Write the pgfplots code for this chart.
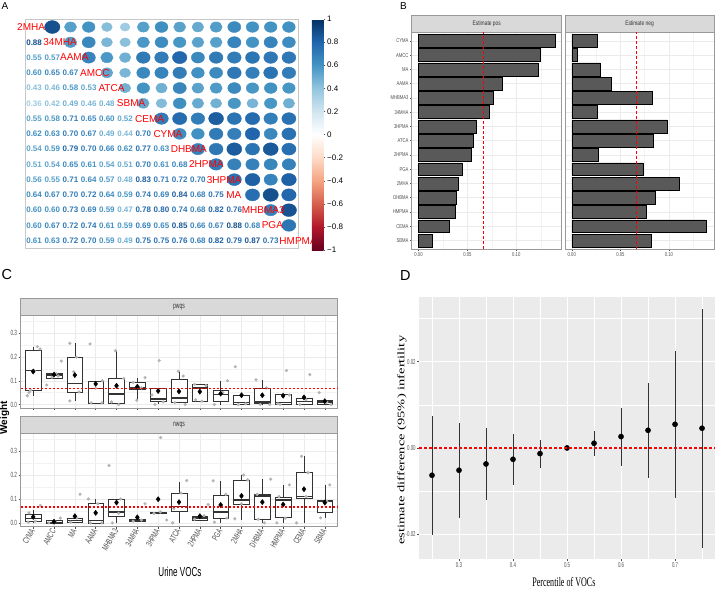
\documentclass[border=0pt]{standalone}
\usepackage{fontspec}
\setmainfont{Liberation Sans}
\newfontfamily\narrowg[FakeStretch=0.75, Color=4D4D4D]{Liberation Sans}
\newfontfamily\condg[FakeStretch=0.62, Color=4D4D4D]{Liberation Sans}
\newfontfamily\stripn[FakeStretch=0.75, Color=333333]{Liberation Sans}
\newfontfamily\stripc[FakeStretch=0.62, Color=333333]{Liberation Sans}
\newfontfamily\cond[FakeStretch=0.62]{Liberation Sans}
\newfontfamily\serifc[FakeStretch=0.62]{Liberation Serif}
\newfontfamily\serifw[FakeStretch=1.45]{Liberation Serif}
\usepackage{pgfplots}
\usepackage{pgfplotstable}
\pgfplotsset{compat=1.18}
\usepgfplotslibrary{statistics}

\definecolor{bargray}{HTML}{595959}
\definecolor{stripfill}{HTML}{D9D9D9}
\definecolor{stripline}{HTML}{999999}
\definecolor{gridc}{HTML}{EBEBEB}
\definecolor{tickc}{HTML}{4D4D4D}
\definecolor{panelbg}{HTML}{EBEBEB}
\definecolor{cellline}{HTML}{C8C8C8}
\definecolor{jit}{HTML}{B4B4B4}
\definecolor{refred}{HTML}{FF0000}

% correlations, i<j
\pgfplotstableread{
i j r
1 2 0.88
1 3 0.55
2 3 0.57
1 4 0.60
2 4 0.65
3 4 0.67
1 5 0.43
2 5 0.46
3 5 0.58
4 5 0.53
1 6 0.36
2 6 0.42
3 6 0.49
4 6 0.46
5 6 0.48
1 7 0.55
2 7 0.58
3 7 0.71
4 7 0.65
5 7 0.60
6 7 0.52
1 8 0.62
2 8 0.63
3 8 0.70
4 8 0.67
5 8 0.49
6 8 0.44
7 8 0.70
1 9 0.54
2 9 0.59
3 9 0.79
4 9 0.70
5 9 0.66
6 9 0.62
7 9 0.77
8 9 0.63
1 10 0.51
2 10 0.54
3 10 0.65
4 10 0.61
5 10 0.54
6 10 0.51
7 10 0.70
8 10 0.61
9 10 0.68
1 11 0.56
2 11 0.55
3 11 0.71
4 11 0.64
5 11 0.57
6 11 0.48
7 11 0.83
8 11 0.71
9 11 0.72
10 11 0.70
1 12 0.64
2 12 0.67
3 12 0.70
4 12 0.72
5 12 0.64
6 12 0.59
7 12 0.74
8 12 0.69
9 12 0.84
10 12 0.68
11 12 0.75
1 13 0.60
2 13 0.60
3 13 0.73
4 13 0.69
5 13 0.59
6 13 0.47
7 13 0.78
8 13 0.80
9 13 0.74
10 13 0.68
11 13 0.82
12 13 0.76
1 14 0.60
2 14 0.67
3 14 0.72
4 14 0.74
5 14 0.61
6 14 0.59
7 14 0.69
8 14 0.65
9 14 0.85
10 14 0.66
11 14 0.67
12 14 0.88
13 14 0.68
1 15 0.61
2 15 0.63
3 15 0.72
4 15 0.70
5 15 0.59
6 15 0.49
7 15 0.75
8 15 0.75
9 15 0.76
10 15 0.68
11 15 0.82
12 15 0.79
13 15 0.87
14 15 0.73
}\corrtab

\pgfplotstableread{
x y lab
0.06 1 2MHA
1.50 2 34MHA
2.42 3 AAMA
3.52 4 AMCC
4.53 5 ATCA
5.54 6 SBMA
6.54 7 CEMA
7.55 8 CYMA
8.50 9 DHBMA
9.51 10 2HPMA
10.48 11 3HPMA
11.55 12 MA
12.40 13 MHBMA3
13.50 14 PGA
14.47 15 HMPMA
}\diagtab

\pgfplotstableread{
k pos neg
1 0.1395 0.0260
2 0.1243 0.0061
3 0.1220 0.0290
4 0.0861 0.0405
5 0.0767 0.0828
6 0.0720 0.0260
7 0.0595 0.0980
8 0.0564 0.0838
9 0.0537 0.0277
10 0.0443 0.0736
11 0.0405 0.1110
12 0.0382 0.0858
13 0.0375 0.0767
14 0.0318 0.1380
15 0.0145 0.0821
}\btab

\pgfplotstableread{
x y
0.72 0.037
0.80 0.050
0.88 0.060
1.20 0.244
1.33 0.234
1.05 0.142
1.65 0.082
2.35 0.183
2.10 0.130
1.90 0.115
2.20 0.120
2.76 0.258
3.08 0.199
2.76 0.015
3.20 0.053
2.95 0.138
3.73 0.255
4.32 0.100
3.78 0.007
4.30 0.007
4.00 0.068
4.95 0.227
5.35 0.110
5.10 0.000
4.76 0.011
6.37 0.113
5.97 0.018
5.80 0.093
6.20 0.070
7.05 0.185
6.85 0.000
7.24 0.011
6.70 0.040
7.97 0.140
8.20 0.120
7.80 0.008
8.30 0.000
8.75 0.085
9.30 0.080
9.10 0.014
8.80 0.020
9.70 0.000
10.33 0.100
10.70 0.159
10.10 0.050
10.85 0.000
11.20 0.003
11.05 0.040
11.70 0.104
12.20 0.070
11.90 0.000
12.35 0.000
12.85 0.000
13.16 0.143
13.30 0.040
12.75 0.003
14.28 0.126
13.80 0.000
14.10 0.020
14.73 0.050
15.30 0.000
15.10 0.010
}\pwpts

\pgfplotstableread{
x y
1 0.139
2 0.126
3 0.124
4 0.087
5 0.079
6 0.075
7 0.057
8 0.055
9 0.054
10 0.046
11 0.039
12 0.039
13 0.037
14 0.030
15 0.014
}\pwmean

\pgfplotstableread{
x y
1.34 0.073
0.80 0.042
0.76 0.003
1.10 0.007
1.75 0.000
2.30 0.020
2.05 0.005
3.25 0.120
2.80 0.003
3.10 0.020
3.65 0.100
3.75 0.000
4.30 0.000
4.10 0.080
4.64 0.240
4.80 0.000
5.20 0.100
5.10 0.040
6.37 0.080
5.80 0.007
6.20 0.012
7.12 0.357
7.41 0.012
6.80 0.040
7.10 0.046
8.37 0.177
7.70 0.000
8.10 0.125
7.75 0.060
9.40 0.077
8.75 0.015
9.20 0.030
9.64 0.176
9.70 0.003
10.25 0.120
10.30 0.020
10.68 0.017
11.10 0.200
11.30 0.180
11.00 0.080
12.40 0.183
11.75 0.120
12.10 0.000
11.80 0.015
13.30 0.159
12.70 0.000
13.10 0.020
12.80 0.110
13.64 0.000
13.88 0.279
14.20 0.210
14.10 0.110
15.24 0.159
14.80 0.021
15.10 0.090
}\nwpts

\pgfplotstableread{
x y
1 0.025
2 0.005
3 0.028
4 0.042
5 0.085
6 0.023
7 0.099
8 0.087
9 0.028
10 0.075
11 0.113
12 0.087
13 0.077
14 0.141
15 0.085
}\nwmean

\pgfplotstableread{
p est lo hi
0.25 -0.00633 -0.02015 0.00741
0.30 -0.00517 -0.01620 0.00587
0.35 -0.00371 -0.01205 0.00471
0.40 -0.00263 -0.00857 0.00332
0.45 -0.00131 -0.00456 0.00185
0.50 0.00000 0.00000 0.00000
0.55 0.00108 -0.00193 0.00394
0.60 0.00263 -0.00409 0.00919
0.65 0.00409 -0.00687 0.01498
0.70 0.00548 -0.01150 0.02240
0.75 0.00456 -0.02310 0.03210
}\dtab

\newcommand\bx[6]{\addplot[draw=black!80, fill=white, line width=0.5pt,
  boxplot prepared={draw direction=y, draw position=#1, lower whisker=#2, lower quartile=#3,
  median=#4, upper quartile=#5, upper whisker=#6, box extend=0.75,
  whisker extend=0, every median/.style={line width=1.3pt}}] coordinates {};}

\pgfplotsset{
  bstyle/.style={
    scale only axis, width=150pt, height=216.7pt,
    xmin=-0.007, xmax=0.1465, ymin=0.4, ymax=15.6, y dir=reverse,
    xtick={0,0.05,0.1}, xticklabels={0.00,0.05,0.10},
    minor xtick={0.025,0.075,0.125}, ytick={1,...,15},
    xmajorgrids, xminorgrids, ymajorgrids,
    major grid style={draw=gridc, line width=0.5pt},
    minor grid style={draw=gridc!60, line width=0.3pt},
    axis line style={draw=stripline, line width=0.5pt},
    tick style={draw=tickc, line width=0.4pt},
    major tick length=1.5pt, minor tick length=0pt,
    tick align=outside, tick pos=left,
    ticklabel style={font=\narrowg\fontsize{5.6}{6}\selectfont, inner sep=1.5pt},
    clip=false},
  cstyle/.style={
    scale only axis, width=316.6pt,
    xmin=0.4, xmax=15.6, ymin=-0.016, ymax=0.375,
    xtick={1,...,15}, ytick={0,0.1,0.2,0.3}, yticklabels={0.0,0.1,0.2,0.3},
    minor ytick={0.05,0.15,0.25,0.35},
    xmajorgrids, ymajorgrids, yminorgrids,
    major grid style={draw=gridc, line width=0.5pt},
    minor grid style={draw=gridc!60, line width=0.3pt},
    axis line style={draw=stripline, line width=0.5pt},
    tick style={draw=tickc, line width=0.4pt},
    major tick length=2pt, minor tick length=0pt,
    tick align=outside, tick pos=left,
    ticklabel style={font=\condg\fontsize{7.5}{8}\selectfont, inner sep=1.5pt},
    clip=false},
  % bare axis on top of a panel, used only for the red reference line
  ovl/.style={scale only axis, hide axis, anchor=south west, clip=false},
  refline/.style={draw=refred, color=refred, line width=1.3pt, dash pattern=on 2.5pt off 1.5pt},
}

\begin{document}
\begin{tikzpicture}
\useasboundingbox (0,0) rectangle (719pt,590pt);

% ---------------- A
\begin{axis}[
  at={(25pt,341.7pt)}, anchor=south west,
  scale only axis, width=273pt, height=228.9pt,
  xmin=0.5, xmax=15.5, ymin=0.5, ymax=15.5, y dir=reverse,
  xtick=\empty, ytick=\empty,
  minor xtick={0.5,1.5,...,15.5}, minor ytick={0.5,1.5,...,15.5},
  grid=minor, minor grid style={draw=cellline, line width=0.5pt},
  minor tick length=0pt,
  axis line style={draw=cellline, line width=0.5pt},
  clip=false,
  colormap={rdbu}{rgb255=(103,0,31) rgb255=(178,24,43) rgb255=(214,96,77) rgb255=(244,165,130) rgb255=(253,219,199) rgb255=(255,255,255) rgb255=(209,229,240) rgb255=(146,197,222) rgb255=(67,147,195) rgb255=(33,102,172) rgb255=(5,48,97)},
  point meta min=-1, point meta max=1,
  colorbar,
  colorbar style={
    at={(parent axis.north east)}, anchor=north west, xshift=5.3pt, yshift=0.4pt,
    scale only axis, width=11.7pt, height=231pt,
    ytick={-1,-0.8,-0.6,-0.4,-0.2,0,0.2,0.4,0.6,0.8,1},
    yticklabels={−1,−0.8,−0.6,−0.4,−0.2,0,0.2,0.4,0.6,0.8,1},
    yticklabel pos=right, ytick pos=right,
    major tick length=1.5pt, tick align=outside,
    axis line style={draw=none},
    ytick style={draw=black!70, line width=0.4pt},
    yticklabel style={font=\fontsize{8}{9}\selectfont, inner sep=2pt}},
]
\addplot[scatter, only marks, mark=*, point meta=\thisrow{r},
  scatter/use mapped color={draw=mapped color, fill=mapped color},
  visualization depends on={6.87*sqrt(\thisrow{r}) \as \msz},
  scatter/@pre marker code/.append style={/tikz/mark size=\msz},
  mark options={xscale=1.19}]
  table[x=j, y=i] {\corrtab};
\addplot[scatter, only marks, mark=none, point meta=\thisrow{r},
  nodes near coords={\pgfplotscolormapdefinemappedcolor{\pgfplotspointmetatransformed}\textcolor{mapped color}{\pgfmathprintnumber[fixed,fixed zerofill,precision=2,assume math mode=true]{\pgfplotspointmeta}}},
  every node near coord/.append style={anchor=center, inner sep=0pt,
    font=\fontsize{8}{9}\selectfont\bfseries}]
  table[x=i, y=j] {\corrtab};
\addplot[only marks, mark=none, point meta=explicit symbolic, nodes near coords,
  every node near coord/.append style={anchor=west, inner sep=0pt,
    font=\fontsize{10}{11}\selectfont, text=refred}]
  table[x=x, y=y, meta=lab] {\diagtab};
\end{axis}

% ---------------- B left
\begin{axis}[bstyle, at={(411.7pt,341pt)}, anchor=south west,
  yticklabels={CYMA,AMCC,MA,AAMA,MHBMA3,34MHA,3HPMA,ATCA,2HPMA,PGA,2MHA,DHBMA,HMPMA,CEMA,SBMA}]
\addplot[xbar, bar width=0.9, fill=bargray, draw=black, line width=0.5pt] table[x=pos, y=k] {\btab};
\draw[fill=stripfill, draw=stripline, line width=0.5pt] (axis description cs:0,1) rectangle ([yshift=16.6pt]axis description cs:1,1);
\node[font=\stripn\fontsize{6.5}{7}\selectfont] at ([yshift=8.3pt]axis description cs:0.5,1) {Estimate pos};
\end{axis}
\begin{axis}[ovl, at={(411.7pt,341pt)}, width=150pt, height=216.7pt,
  xmin=-0.007, xmax=0.1465, ymin=0.4, ymax=15.6]
\addplot[refline, line width=1.3pt, dash pattern=on 3pt off 2pt] coordinates {(0.0667,0.4) (0.0667,15.6)};
\end{axis}

% ---------------- B right
\begin{axis}[bstyle, at={(565pt,341pt)}, anchor=south west, width=149pt,
  yticklabels={}, ytick style={draw=none}]
\addplot[xbar, bar width=0.9, fill=bargray, draw=black, line width=0.5pt] table[x=neg, y=k] {\btab};
\draw[fill=stripfill, draw=stripline, line width=0.5pt] (axis description cs:0,1) rectangle ([yshift=16.6pt]axis description cs:1,1);
\node[font=\stripn\fontsize{6.5}{7}\selectfont] at ([yshift=8.3pt]axis description cs:0.5,1) {Estimate neg};
\end{axis}
\begin{axis}[ovl, at={(565pt,341pt)}, width=149pt, height=216.7pt,
  xmin=-0.007, xmax=0.1465, ymin=0.4, ymax=15.6]
\addplot[refline, line width=1.3pt, dash pattern=on 3pt off 2pt] coordinates {(0.0667,0.4) (0.0667,15.6)};
\end{axis}

% ---------------- C top (pwqs)
\begin{axis}[cstyle, at={(20.7pt,181.7pt)}, anchor=south west, height=92.8pt, xticklabels={}]
\bx{1}{0.035}{0.058}{0.142}{0.227}{0.244}
\bx{2}{0.110}{0.111}{0.124}{0.131}{0.131}
\bx{3}{0.015}{0.051}{0.089}{0.199}{0.258}
\bx{4}{0.007}{0.007}{0.068}{0.099}{0.099}
\bx{5}{0.007}{0.007}{0.044}{0.110}{0.227}
\bx{6}{0.018}{0.065}{0.070}{0.093}{0.110}
\bx{7}{0.002}{0.014}{0.023}{0.070}{0.070}
\bx{8}{0.005}{0.010}{0.028}{0.107}{0.138}
\bx{9}{0.014}{0.014}{0.070}{0.085}{0.085}
\bx{10}{0.000}{0.014}{0.042}{0.061}{0.100}
\bx{11}{0.000}{0.000}{0.008}{0.037}{0.037}
\bx{12}{0.000}{0.004}{0.011}{0.068}{0.103}
\bx{13}{0.000}{0.001}{0.008}{0.042}{0.042}
\bx{14}{0.000}{0.003}{0.014}{0.025}{0.025}
\bx{15}{0.000}{0.001}{0.010}{0.018}{0.018}
\addplot[only marks, mark=*, mark size=1.4pt, draw=jit, fill=jit, mark options={draw=jit, fill=jit}] table[x=x, y=y] {\pwpts};
\addplot[only marks, mark=diamond*, mark size=2.6pt, mark options={draw=black, fill=black}] table[x=x, y=y] {\pwmean};
\draw[fill=stripfill, draw=stripline, line width=0.5pt] (axis description cs:0,1) rectangle ([yshift=17pt]axis description cs:1,1);
\node[font=\stripc\fontsize{8}{9}\selectfont] at ([yshift=8.5pt]axis description cs:0.5,1) {pwqs};
\end{axis}
\begin{axis}[ovl, at={(20.7pt,181.7pt)}, width=316.6pt, height=92.8pt,
  xmin=0.4, xmax=15.6, ymin=-0.016, ymax=0.375]
\addplot[refline] coordinates {(0.4,0.0667) (15.6,0.0667)};
\end{axis}

% ---------------- C bottom (nwqs)
\begin{axis}[cstyle, at={(20.7pt,63.3pt)}, anchor=south west, height=93.4pt,
  xticklabels={CYMA,AMCC,MA,AAMA,MHBMA3,34MHA,3HPMA,ATCA,2HPMA,PGA,2MHA,DHBMA,HMPMA,CEMA,SBMA},
  xticklabel style={rotate=60, anchor=east, font=\condg\fontsize{8.8}{10}\selectfont, inner sep=1pt},
  xlabel={Urine VOCs},
  xlabel style={at={(axis description cs:0.503,-0.482)}, anchor=center, font=\cond\fontsize{13}{14}\selectfont}]
\bx{1}{0.000}{0.007}{0.017}{0.038}{0.056}
\bx{2}{0.000}{0.000}{0.003}{0.011}{0.011}
\bx{3}{0.000}{0.003}{0.011}{0.020}{0.028}
\bx{4}{0.000}{0.000}{0.011}{0.082}{0.099}
\bx{5}{0.000}{0.028}{0.045}{0.099}{0.099}
\bx{6}{0.007}{0.007}{0.011}{0.017}{0.017}
\bx{7}{0.039}{0.039}{0.042}{0.046}{0.046}
\bx{8}{0.000}{0.049}{0.070}{0.124}{0.172}
\bx{9}{0.011}{0.011}{0.020}{0.028}{0.028}
\bx{10}{0.000}{0.021}{0.046}{0.117}{0.176}
\bx{11}{0.014}{0.077}{0.096}{0.179}{0.200}
\bx{12}{0.000}{0.017}{0.113}{0.120}{0.183}
\bx{13}{0.000}{0.025}{0.096}{0.106}{0.159}
\bx{14}{0.000}{0.103}{0.110}{0.211}{0.279}
\bx{15}{0.021}{0.045}{0.092}{0.096}{0.159}
\addplot[only marks, mark=*, mark size=1.4pt, draw=jit, fill=jit, mark options={draw=jit, fill=jit}] table[x=x, y=y] {\nwpts};
\addplot[only marks, mark=diamond*, mark size=2.6pt, mark options={draw=black, fill=black}] table[x=x, y=y] {\nwmean};
\draw[fill=stripfill, draw=stripline, line width=0.5pt] (axis description cs:0,1) rectangle ([yshift=17pt]axis description cs:1,1);
\node[font=\stripc\fontsize{8}{9}\selectfont] at ([yshift=8.5pt]axis description cs:0.5,1) {nwqs};
\end{axis}
\begin{axis}[ovl, at={(20.7pt,63.3pt)}, width=316.6pt, height=93.4pt,
  xmin=0.4, xmax=15.6, ymin=-0.016, ymax=0.375]
\addplot[refline] coordinates {(0.4,0.0667) (15.6,0.0667)};
\end{axis}

% ---------------- D
\begin{axis}[at={(419.3pt,30.7pt)}, anchor=south west,
  scale only axis, width=295.7pt, height=262pt,
  xmin=0.2265, xmax=0.774, ymin=-0.0258, ymax=0.0349,
  scaled y ticks=false, scaled x ticks=false,
  axis background/.style={fill=panelbg},
  axis line style={draw=none},
  xtick={0.3,0.4,0.5,0.6,0.7}, xticklabels={0.3,0.4,0.5,0.6,0.7},
  minor xtick={0.25,0.35,0.45,0.55,0.65,0.75},
  ytick={-0.02,0,0.02}, yticklabels={-0.02,0.00,0.02},
  minor ytick={-0.01,0.01,0.03},
  grid=both, major grid style={draw=white, line width=0.9pt},
  minor grid style={draw=white, line width=0.45pt},
  tick style={draw=tickc, line width=0.4pt},
  major tick length=2pt, minor tick length=0pt,
  tick align=outside, tick pos=left,
  ticklabel style={font=\condg\fontsize{7}{8}\selectfont, inner sep=1.5pt},
  xlabel={Percentile of VOCs},
  xlabel style={at={(axis description cs:0.489,-0.0855)}, anchor=center, font=\serifc\fontsize{13}{14}\selectfont},
  ylabel={estimate difference (95\%) infertility},
  ylabel style={at={(axis description cs:-0.0585,0.455)}, anchor=center, rotate=0, font=\serifw\fontsize{10}{11}\selectfont},
]
\addplot[only marks, mark=*, mark size=2.6pt, mark options={draw=black, fill=black},
  error bars/.cd, y dir=both, y explicit, error mark=none,
  error bar style={line width=0.8pt, black!80}]
  table[x=p, y=est, y error plus expr=\thisrow{hi}-\thisrow{est}, y error minus expr=\thisrow{est}-\thisrow{lo}] {\dtab};
\end{axis}
\begin{axis}[ovl, at={(419.3pt,30.7pt)}, width=295.7pt, height=262pt,
  xmin=0.2265, xmax=0.774, ymin=-0.0258, ymax=0.0349]
\addplot[refline, line width=1.3pt, dash pattern=on 3pt off 2pt] coordinates {(0.2265,0) (0.774,0)};
\end{axis}

% panel letters and shared label
\node[anchor=north west, inner sep=0pt, font=\fontsize{10}{11}\selectfont] at (1.5pt,587.5pt) {A};
\node[anchor=north west, inner sep=0pt, font=\fontsize{10}{11}\selectfont] at (400pt,587.5pt) {B};
\node[anchor=north west, inner sep=0pt, font=\fontsize{14.5}{15}\selectfont] at (1.5pt,320.5pt) {C};
\node[anchor=north west, inner sep=0pt, font=\fontsize{14.5}{15}\selectfont] at (400pt,320pt) {D};
\node[rotate=90, font=\fontsize{10}{11}\selectfont\bfseries] at (4.5pt,172pt) {Weight};
\end{tikzpicture}
\end{document}
